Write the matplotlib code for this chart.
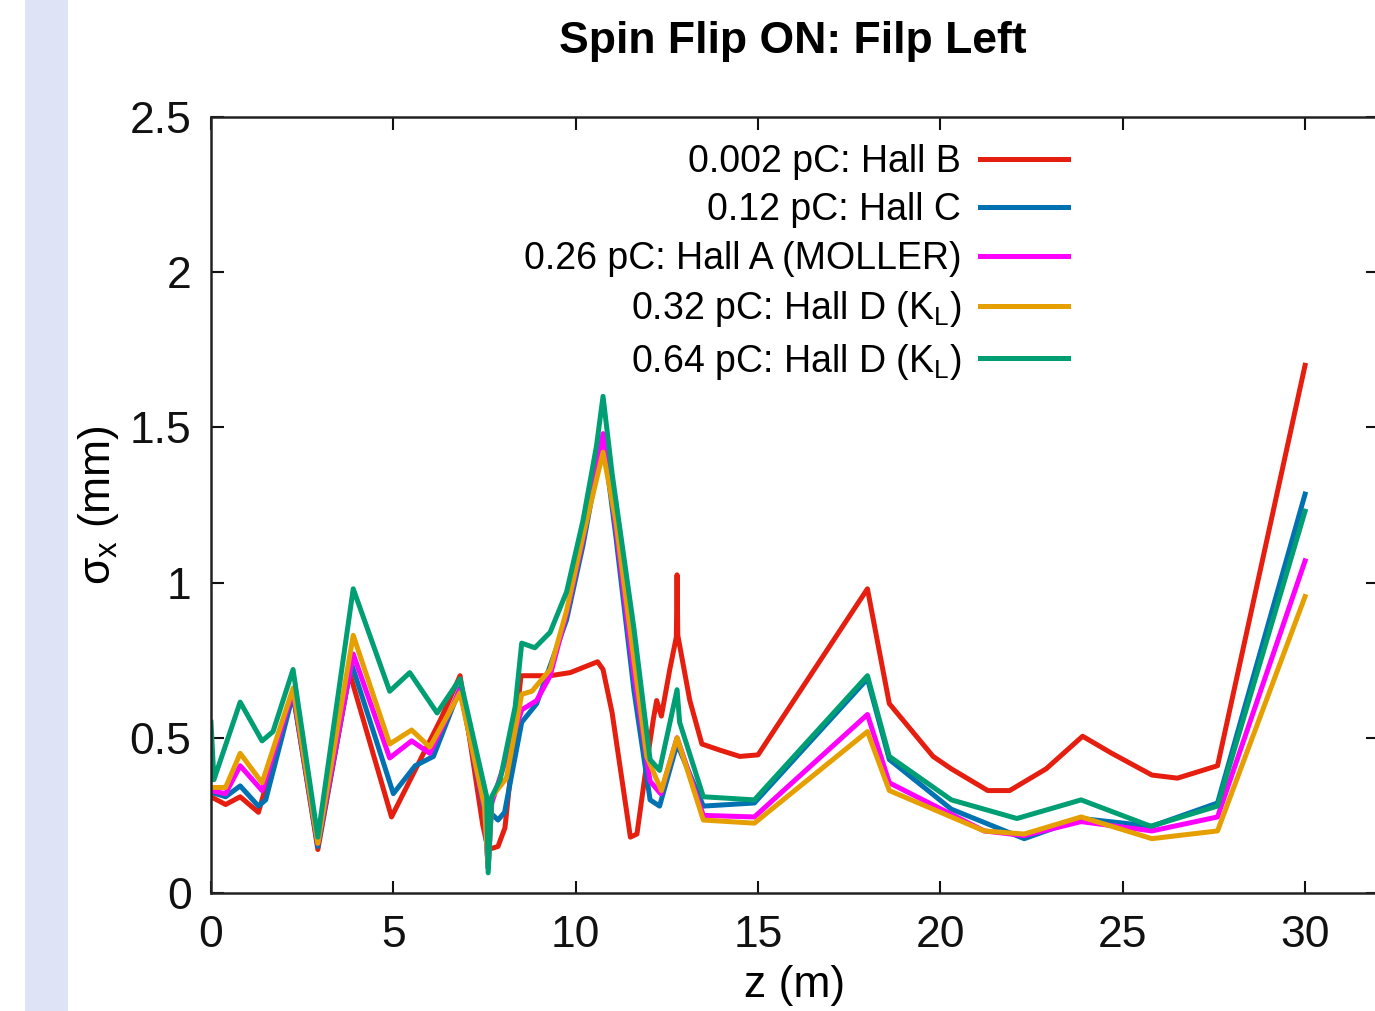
import matplotlib
matplotlib.use("Agg")
import matplotlib.pyplot as plt
from matplotlib.patches import Rectangle
from matplotlib.ticker import FuncFormatter

plt.rcParams['font.family'] = ['Liberation Sans', 'DejaVu Sans']
plt.rcParams['mathtext.fontset'] = 'custom'
plt.rcParams['mathtext.rm'] = 'Liberation Sans'

# sigma_x (mm) along z (m)
z_red = [0.0, 0.4, 0.8, 1.3, 2.25, 2.93, 3.8, 4.95, 5.7, 6.3, 6.83, 7.45, 7.6, 7.87, 8.06,
         8.5, 9.3, 9.85, 10.6, 10.75, 11.0, 11.5, 11.68, 11.95, 12.13, 12.22, 12.35, 12.58,
         12.76, 12.78, 12.8, 13.13, 13.46, 13.96, 14.5, 15.0, 18.0, 18.6, 19.8, 20.3, 21.3,
         21.9, 22.9, 23.9, 24.7, 25.8, 26.5, 27.6, 30.0]
s_red = [0.31, 0.285, 0.31, 0.26, 0.645, 0.14, 0.71, 0.245, 0.42, 0.56, 0.70, 0.22, 0.14, 0.15, 0.21,
         0.70, 0.70, 0.71, 0.745, 0.72, 0.58, 0.18, 0.19, 0.42, 0.56, 0.62, 0.57, 0.72,
         0.825, 1.025, 0.83, 0.62, 0.48, 0.46, 0.44, 0.445, 0.98, 0.61, 0.44, 0.40, 0.33,
         0.33, 0.40, 0.505, 0.45, 0.38, 0.37, 0.41, 1.70]

z_blue = [0.0, 0.4, 0.8, 1.3, 1.5, 2.25, 2.93, 3.85, 5.0, 5.6, 6.1, 6.83, 7.5, 7.6, 7.65, 7.87,
          8.05, 8.52, 8.93, 9.75, 10.2, 10.75, 11.1, 11.6, 12.04, 12.3, 12.78, 13.5, 14.9,
          18.0, 18.6, 20.3, 22.3, 23.86, 25.8, 27.6, 30.0]
s_blue = [0.325, 0.31, 0.345, 0.28, 0.30, 0.64, 0.15, 0.74, 0.32, 0.41, 0.44, 0.66, 0.26, 0.08, 0.26, 0.235,
          0.26, 0.55, 0.61, 0.88, 1.12, 1.47, 1.15, 0.65, 0.30, 0.28, 0.48, 0.28, 0.29,
          0.69, 0.43, 0.27, 0.175, 0.24, 0.215, 0.29, 1.285]

z_mag = [0.0, 0.4, 0.8, 1.4, 2.25, 2.93, 3.9, 4.9, 5.5, 6.0, 6.83, 7.5, 7.6, 7.7, 8.52, 8.93,
         9.3, 9.75, 10.2, 10.75, 11.1, 11.6, 12.04, 12.33, 12.78, 13.5, 14.9, 18.0, 18.6,
         21.2, 22.3, 23.86, 25.8, 27.6, 30.0]
s_mag = [0.33, 0.32, 0.41, 0.33, 0.65, 0.16, 0.77, 0.435, 0.49, 0.45, 0.655, 0.27, 0.08, 0.29, 0.59, 0.62,
         0.70, 0.90, 1.14, 1.48, 1.18, 0.70, 0.36, 0.32, 0.50, 0.25, 0.245, 0.575, 0.355,
         0.20, 0.185, 0.23, 0.20, 0.245, 1.07]

z_orange = [0.0, 0.4, 0.8, 1.4, 2.25, 2.93, 3.9, 4.9, 5.5, 6.0, 6.83, 7.5, 7.6, 7.7, 8.1, 8.52,
            8.8, 9.3, 9.75, 10.2, 10.75, 11.1, 11.6, 11.95, 12.35, 12.78, 13.5, 14.9, 18.0,
            18.6, 21.2, 22.3, 23.86, 25.8, 27.6, 30.0]
s_orange = [0.34, 0.34, 0.45, 0.355, 0.66, 0.16, 0.83, 0.48, 0.525, 0.47, 0.645, 0.28, 0.08, 0.31, 0.37, 0.64,
            0.65, 0.72, 0.91, 1.15, 1.42, 1.20, 0.75, 0.44, 0.33, 0.50, 0.235, 0.225, 0.52,
            0.33, 0.20, 0.19, 0.245, 0.175, 0.20, 0.955]

z_green = [0.0, 0.08, 0.8, 1.4, 1.7, 2.25, 2.93, 3.9, 4.9, 5.45, 6.2, 6.83, 7.56, 7.6, 7.7, 7.93,
           8.34, 8.52, 8.88, 9.3, 9.75, 10.2, 10.57, 10.75, 11.0, 11.6, 12.04, 12.3, 12.78,
           12.85, 13.5, 14.9, 18.0, 18.6, 20.3, 22.1, 23.86, 25.77, 27.6, 30.0]
s_green = [0.55, 0.365, 0.615, 0.49, 0.52, 0.72, 0.18, 0.98, 0.65, 0.71, 0.58, 0.69, 0.31, 0.065, 0.31, 0.365,
           0.60, 0.805, 0.79, 0.84, 0.97, 1.20, 1.44, 1.60, 1.35, 0.85, 0.43, 0.395, 0.655,
           0.55, 0.31, 0.30, 0.70, 0.44, 0.30, 0.24, 0.30, 0.215, 0.28, 1.23]

labels = ["0.002 pC: Hall B",
          "0.12 pC: Hall C",
          "0.26 pC: Hall A (MOLLER)",
          r"0.32 pC: Hall D (K$_\mathregular{L}$)",
          r"0.64 pC: Hall D (K$_\mathregular{L}$)"]
colors = ["#e51e10", "#0072b2", "#ff00ff", "#e69f00", "#009e73"]

W, H = 1375, 1011
fig = plt.figure(figsize=(W / 100, H / 100), dpi=100)
fig.patches.append(Rectangle((25 / W, 0), 43 / W, 1, transform=fig.transFigure,
                             facecolor="#dee4f5", edgecolor="none", zorder=0))

ax = fig.add_axes([211 / W, 1 - 893 / H, (1378 - 211) / W, (893 - 117) / H])

series = [(z_red, s_red), (z_blue, s_blue), (z_mag, s_mag), (z_orange, s_orange), (z_green, s_green)]
for (z, s), lab, c in zip(series, labels, colors):
    ax.plot(z, s, color=c, lw=3.6, label=lab)

ax.set_xlim(0, 32)
ax.set_ylim(0, 2.5)
ax.set_xticks([0, 5, 10, 15, 20, 25, 30])
ax.set_yticks([0, 0.5, 1, 1.5, 2, 2.5])
ax.yaxis.set_major_formatter(FuncFormatter(lambda v, p: "%g" % v))
ax.tick_params(direction="in", length=9, width=1.5, top=True, right=True,
               labelsize=32, colors="#111111")
ax.tick_params(axis="y", pad=14)
ax.tick_params(axis="x", pad=16)
for sp in ax.spines.values():
    sp.set_linewidth(1.8)
    sp.set_color("#222222")

ax.set_xlabel("z (m)", fontsize=32, labelpad=6)
ax.set_ylabel(r"σ$_\mathregular{x}$ (mm)", fontsize=32, labelpad=6)

fig.text(793 / W, 1 - 42 / H, "Spin Flip ON: Filp Left", fontsize=32, fontweight="bold",
         ha="center", va="center")

leg = ax.legend(loc="upper right", bbox_to_anchor=(1068 / W, 1 - 144 / H),
                bbox_transform=fig.transFigure, frameon=False, fontsize=27,
                markerfirst=False, handlelength=2.35, handletextpad=0.5,
                labelspacing=0.33, borderpad=0, borderaxespad=0)

fig.savefig("out.png", dpi=100)
